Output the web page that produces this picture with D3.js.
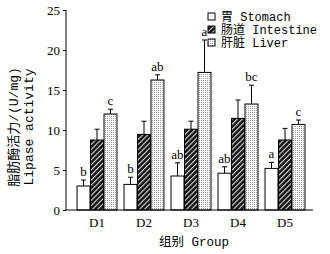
<!DOCTYPE html>
<html>
<head>
<meta charset="utf-8">
<script src="https://cdn.jsdelivr.net/npm/d3@7"></script>
<style>
  body { margin: 0; background: #fff; }
  svg text { fill: #000; }
</style>
</head>
<body>
<svg id="chart" width="330" height="254"></svg>
<script>
const groups = ["D1", "D2", "D3", "D4", "D5"];
const seriesNames = ["胃 Stomach", "肠道 Intestine", "肝脏 Liver"];
const stomach = [3.0, 3.2, 4.25, 4.6, 5.2];
const stomachErr = [0.75, 0.9, 1.65, 0.8, 0.75];
const intestine = [8.75, 9.45, 10.1, 11.45, 8.75];
const intestineErr = [1.35, 1.65, 1.0, 2.3, 1.45];
const liver = [12.0, 16.25, 17.2, 13.25, 10.7];
const liverErr = [0.6, 0.65, 4.05, 2.35, 0.55];
const stomachSig = ["b", "b", "ab", "ab", "a"];
const liverSig = ["c", "ab", "a", "bc", "c"];
const yTicks = [0, 5, 10, 15, 20, 25];

const svg = d3.select("#chart");
const serif = "'Liberation Serif', 'DejaVu Serif', serif";
const mono = "'Liberation Mono', 'Noto Sans CJK SC', monospace";

// patterns
const defs = svg.append("defs");
const hatch = defs.append("pattern")
  .attr("id", "hatch")
  .attr("patternUnits", "userSpaceOnUse")
  .attr("width", 3.6).attr("height", 3.6)
  .attr("patternTransform", "rotate(45)");
hatch.append("rect").attr("width", 3.6).attr("height", 3.6).attr("fill", "#111");
hatch.append("rect").attr("x", 0).attr("width", 1.1).attr("height", 3.6).attr("fill", "#ddd");

const dots = defs.append("pattern")
  .attr("id", "dots")
  .attr("patternUnits", "userSpaceOnUse")
  .attr("width", 2).attr("height", 2);
dots.append("rect").attr("width", 2).attr("height", 2).attr("fill", "#fff");
dots.append("rect").attr("x", 0).attr("y", 0).attr("width", 1).attr("height", 1).attr("fill", "#999");

const fills = ["#fff", "url(#hatch)", "url(#dots)"];

const y = d3.scaleLinear().domain([0, 25]).range([210, 10]);
const x = d3.scaleBand().domain(groups).range([73.5, 308.5])
  .paddingInner(0.15).paddingOuter(0.075);
const xSub = d3.scaleBand().domain([0, 1, 2]).range([0, x.bandwidth()]).paddingInner(0.04);

const data = groups.map((g, i) => ({
  group: g,
  bars: [
    { k: 0, v: stomach[i], e: stomachErr[i], sig: stomachSig[i] },
    { k: 1, v: intestine[i], e: intestineErr[i], sig: "" },
    { k: 2, v: liver[i], e: liverErr[i], sig: liverSig[i] }
  ]
}));

const g = svg.selectAll(".grp").data(data).enter().append("g")
  .attr("class", "grp")
  .attr("transform", d => `translate(${x(d.group)},0)`);

const bar = g.selectAll(".bar").data(d => d.bars).enter().append("g").attr("class", "bar");

// error bars (upper only)
bar.append("line")
  .attr("x1", d => xSub(d.k) + xSub.bandwidth() / 2)
  .attr("x2", d => xSub(d.k) + xSub.bandwidth() / 2)
  .attr("y1", d => y(d.v))
  .attr("y2", d => y(d.v + d.e))
  .attr("stroke", "#000").attr("stroke-width", 1);
bar.append("line")
  .attr("x1", d => xSub(d.k) + xSub.bandwidth() / 2 - 2.5)
  .attr("x2", d => xSub(d.k) + xSub.bandwidth() / 2 + 2.5)
  .attr("y1", d => y(d.v + d.e))
  .attr("y2", d => y(d.v + d.e))
  .attr("stroke", "#000").attr("stroke-width", 1);

bar.append("rect")
  .attr("x", d => xSub(d.k))
  .attr("y", d => y(d.v))
  .attr("width", xSub.bandwidth())
  .attr("height", d => y(0) - y(d.v))
  .attr("fill", d => fills[d.k])
  .attr("stroke", "#000").attr("stroke-width", 1);

bar.append("text")
  .attr("x", d => xSub(d.k) + xSub.bandwidth() / 2)
  .attr("y", d => y(d.v + d.e) - 4)
  .attr("text-anchor", "middle")
  .style("font-family", serif).style("font-size", "13px")
  .text(d => d.sig);

// axes
const yAxis = d3.axisLeft(y).tickValues(yTicks).tickSize(3).tickPadding(3);
svg.append("g").attr("transform", "translate(66,0)").call(yAxis)
  .call(s => s.select(".domain").attr("d", "M0,10V210"))
  .selectAll("text").style("font-family", serif).style("font-size", "13px");

svg.append("line").attr("x1", 66).attr("x2", 313).attr("y1", 210).attr("y2", 210)
  .attr("stroke", "#000").attr("stroke-width", 1);

const xAxis = d3.axisBottom(x).tickSize(0).tickPadding(8);
svg.append("g").attr("transform", "translate(0,210)").call(xAxis)
  .call(s => s.select(".domain").remove())
  .selectAll("text").style("font-family", serif).style("font-size", "13px");

// axis titles
svg.append("text")
  .attr("x", 194).attr("y", 246)
  .attr("text-anchor", "middle")
  .style("font-family", mono).style("font-size", "12.5px")
  .text("组别 Group");

svg.append("text")
  .attr("transform", "translate(18,127) rotate(-90)")
  .attr("text-anchor", "middle")
  .style("font-family", mono).style("font-size", "13px")
  .text("脂肪酶活力/(U/mg)");
svg.append("text")
  .attr("transform", "translate(33,127) rotate(-90)")
  .attr("text-anchor", "middle")
  .style("font-family", mono).style("font-size", "13px")
  .text("Lipase activity");

// legend
const leg = svg.append("g").selectAll("g").data(seriesNames).enter().append("g")
  .attr("transform", (d, i) => `translate(208,${13 + i * 13})`);
leg.append("rect")
  .attr("x", 0).attr("y", 0).attr("width", 7).attr("height", 7)
  .attr("fill", (d, i) => fills[i])
  .attr("stroke", "#000").attr("stroke-width", 1);
leg.append("text")
  .attr("x", 13).attr("y", 8)
  .style("font-family", mono).style("font-size", "12px")
  .text(d => d);
</script>
</body>
</html>
